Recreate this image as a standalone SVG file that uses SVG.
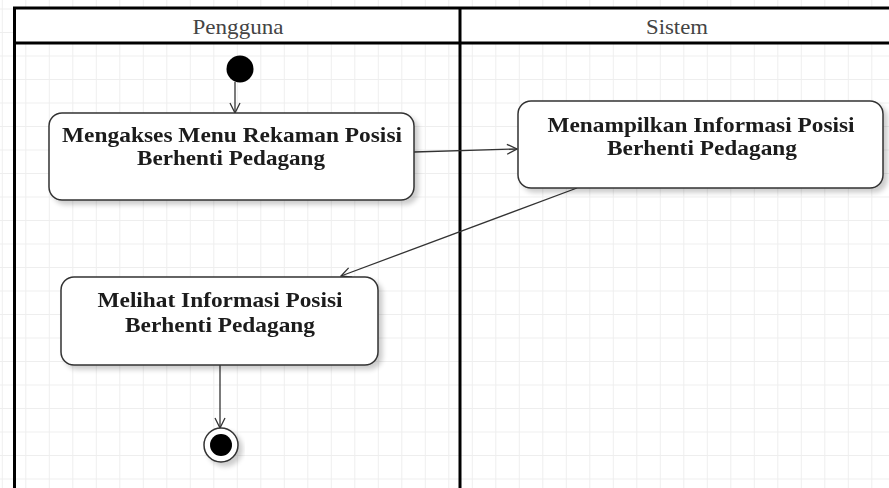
<svg xmlns="http://www.w3.org/2000/svg" width="889" height="488" viewBox="0 0 889 488">
  <defs>
    <pattern id="grid" x="1.8" y="8.5" width="23.5" height="23.5" patternUnits="userSpaceOnUse">
      <path d="M0 0.5 H23.5 M0.5 0 V23.5" fill="none" stroke="#eeeeee" stroke-width="1"/>
    </pattern>
    <filter id="shadow" x="-10%" y="-10%" width="130%" height="140%">
      <feGaussianBlur in="SourceAlpha" stdDeviation="2.5"/>
      <feOffset dx="4" dy="4" result="b"/>
      <feComponentTransfer><feFuncA type="linear" slope="0.2"/></feComponentTransfer>
      <feMerge><feMergeNode/><feMergeNode in="SourceGraphic"/></feMerge>
    </filter>
    <marker id="open" viewBox="0 0 12 12" refX="11" refY="6" markerWidth="12" markerHeight="12" markerUnits="userSpaceOnUse" orient="auto">
      <path d="M1 1 L11 6 L1 11" fill="none" stroke="#333" stroke-width="1.3"/>
    </marker>
  </defs>
  <style>
    .lane { fill: none; stroke: #000; stroke-width: 3; }
    .head { font-family: "Liberation Serif", serif; font-size: 21px; fill: #444; text-anchor: middle; }
    .act rect { fill: #fff; stroke: #333; stroke-width: 1.5; }
    .act text { font-family: "Liberation Serif", serif; font-size: 21px; font-weight: bold; fill: #1a1a1a; text-anchor: middle; }
    .edge { fill: none; stroke: #333; stroke-width: 1.3; marker-end: url(#open); }
  </style>

  <!-- background grid -->
  <rect width="889" height="488" fill="#fff"/>
  <rect width="889" height="488" fill="url(#grid)"/>

  <!-- swimlane frame -->
  <g id="swimlanes">
    <rect x="14.5" y="8" width="880" height="35" fill="#fff"/>
    <path class="lane" d="M14.5 492 V8 H895 M14.5 43 H895 M460 8 V492"/>
    <text class="head" x="238" y="34" textLength="91" lengthAdjust="spacingAndGlyphs">Pengguna</text>
    <text class="head" x="677" y="34" textLength="62" lengthAdjust="spacingAndGlyphs">Sistem</text>
  </g>

  <!-- connectors -->
  <g id="connectors">
    <line class="edge" x1="235" y1="82" x2="235" y2="113"/>
    <line class="edge" x1="414" y1="152" x2="517" y2="149"/>
    <line class="edge" x1="577" y1="188" x2="341" y2="276"/>
    <line class="edge" x1="220" y1="365" x2="220" y2="428"/>
  </g>

  <g id="start">
    <circle cx="240" cy="69" r="13.5" fill="#000"/>
  </g>

  <g id="act1" class="act" filter="url(#shadow)">
    <rect x="49" y="113" width="365" height="87" rx="13"/>
    <text x="232" y="142" textLength="340" lengthAdjust="spacingAndGlyphs">Mengakses Menu Rekaman Posisi</text>
    <text x="231" y="165" textLength="188" lengthAdjust="spacingAndGlyphs">Berhenti Pedagang</text>
  </g>

  <g id="act2" class="act" filter="url(#shadow)">
    <rect x="518" y="101" width="365" height="87" rx="13"/>
    <text x="701" y="132" textLength="307" lengthAdjust="spacingAndGlyphs">Menampilkan Informasi Posisi</text>
    <text x="702" y="155" textLength="190" lengthAdjust="spacingAndGlyphs">Berhenti Pedagang</text>
  </g>

  <g id="act3" class="act" filter="url(#shadow)">
    <rect x="61" y="277" width="317" height="88" rx="13"/>
    <text x="220" y="307" textLength="245" lengthAdjust="spacingAndGlyphs">Melihat Informasi Posisi</text>
    <text x="220" y="332" textLength="190" lengthAdjust="spacingAndGlyphs">Berhenti Pedagang</text>
  </g>

  <g id="end" filter="url(#shadow)">
    <circle cx="221" cy="445" r="17" fill="#fff" stroke="#333" stroke-width="1.5"/>
    <circle cx="221" cy="445" r="11" fill="#000"/>
  </g>
</svg>
